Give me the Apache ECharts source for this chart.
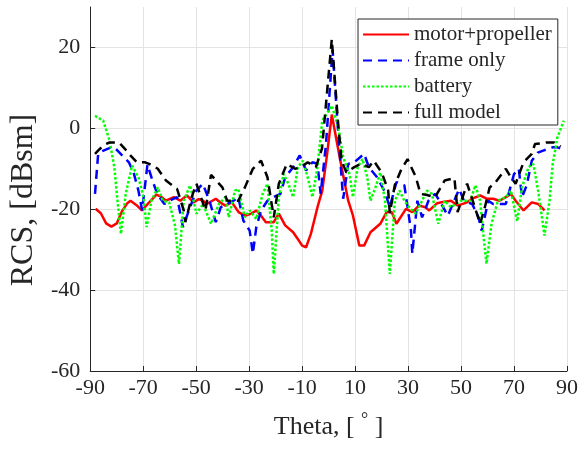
<!DOCTYPE html>
<html>
<head>
<meta charset="utf-8">
<script src="https://cdn.jsdelivr.net/npm/echarts@6/dist/echarts.min.js"></script>
<style>html,body{margin:0;padding:0;background:#fff}#c{width:581px;height:449px}</style>
</head>
<body>
<div id="c"></div>
<script>
const seriesNames = ['motor+propeller', 'frame only', 'battery', 'full model'];
const xTicks = [-90, -70, -50, -30, -10, 10, 30, 50, 70, 90];
const yTicks = [-60, -40, -20, 0, 20];

const motorPropeller = [[-88,-19.9],[-86,-21],[-84,-23.5],[-82,-24.3],[-80,-23.5],[-78,-20.5],[-76,-18.5],[-74.8,-17.9],[-72.5,-19],[-70.5,-20.3],[-68,-18.5],[-65,-16.4],[-63,-17],[-61.4,-17.9],[-58.4,-17],[-56,-17.9],[-53.5,-16.6],[-51,-18.3],[-49,-17.5],[-47.4,-17.9],[-46,-18.7],[-42.6,-17.4],[-40.5,-18.5],[-39,-19.1],[-36.5,-18.3],[-34,-20.7],[-31.6,-21.6],[-29.2,-21.1],[-27.3,-20.3],[-25.5,-21.6],[-23.7,-23.2],[-20.7,-23.2],[-18.8,-21.1],[-16.4,-24],[-13.4,-25.7],[-11.5,-27.5],[-10,-29],[-8.5,-29.4],[-6.7,-26.1],[-4.2,-19.5],[-2.4,-15.4],[-0.5,-6],[1.2,3.4],[3,-3],[4.9,-9.6],[7.4,-17.9],[9.2,-21.6],[11.6,-29],[13.4,-29],[15.8,-25.7],[19.5,-23.6],[21.9,-20.7],[23.8,-20.7],[25.6,-23.6],[29.2,-19.9],[31.6,-20.7],[34.1,-19.1],[36.5,-19.5],[38,-20.3],[41,-18.5],[42.6,-18.3],[46.2,-17.9],[48.7,-19.1],[52.3,-18.3],[54.2,-17.4],[57.2,-16.6],[59.6,-17.4],[62.1,-17.4],[64.5,-17.9],[66.9,-17],[68.8,-16.2],[70.6,-17.9],[73.6,-20.3],[76.7,-18.3],[79.1,-18.7],[81.5,-20.3]];

const frameOnly = [[-88.2,-16.2],[-87,-6.3],[-85,-5.5],[-82.1,-4.7],[-80.3,-5.1],[-77.2,-7.2],[-75.4,-8.4],[-73.6,-11],[-71.8,-15.4],[-70.4,-20.3],[-68.4,-9],[-66.3,-13.3],[-64.5,-16.5],[-62,-18.7],[-60.2,-17.9],[-57.2,-17],[-55,-24.4],[-52.3,-19.5],[-49.9,-15.4],[-47.5,-13.7],[-45,-17.9],[-42.6,-23.2],[-40.7,-19.5],[-38.3,-18.7],[-35.9,-17.9],[-34.1,-17],[-32.2,-22.8],[-29.8,-25.3],[-28.6,-31],[-27.3,-24.4],[-25.5,-20.3],[-23.1,-17.9],[-20.7,-17],[-18.2,-16.2],[-16.4,-12.1],[-13.4,-9.6],[-10.9,-6.7],[-8.5,-10.4],[-6.1,-8.4],[-4.2,-8.8],[-3,-16.2],[-1,-4],[1.5,19.5],[3.5,0],[5.5,-17.4],[7.4,-8.8],[9.7,-8.4],[13.4,-6.3],[15.2,-9.6],[18.3,-12.1],[21.3,-15.8],[23.1,-19.5],[25.6,-13.3],[28.6,-14.1],[31.1,-25.3],[31.6,-31],[33.5,-17.9],[35.3,-22],[37.7,-17.9],[40.2,-16.2],[42,-18],[45,-21.6],[49.3,-15],[51.1,-17.9],[54.2,-18.7],[56.6,-22],[57.8,-25.3],[60.3,-17.9],[62.1,-18.7],[66.9,-18.7],[70,-11.3],[71.8,-10],[73,-17],[74.8,-14.1],[76.7,-8],[79,-6],[81,-5.5],[84.6,-4.7],[86.4,-4.7],[89.5,-5.5]];

const battery = [[-88.2,3.1],[-85.1,1.9],[-82.7,-3],[-80.9,-9.6],[-79.7,-17.9],[-78.4,-26.1],[-76.6,-16.2],[-74.2,-9.2],[-71.8,-12.1],[-69.9,-17],[-68.7,-24.4],[-66.9,-17.9],[-64.5,-14.6],[-62.6,-17.9],[-60.2,-18.3],[-58,-24],[-56.5,-33.5],[-54.7,-17.9],[-52.3,-14.1],[-49.9,-21.1],[-47.4,-18.7],[-44.4,-23.6],[-41.4,-18.7],[-38.9,-17],[-37.7,-22],[-35.3,-15.4],[-34.1,-15],[-31.6,-22],[-29.8,-20.3],[-27.3,-22.4],[-24.9,-16.2],[-23.1,-13.7],[-21.5,-25],[-20.7,-36],[-18.8,-17],[-17,-11.3],[-15.2,-13.7],[-13.4,-17],[-11.6,-9.6],[-9.7,-8],[-7.9,-12.1],[-6.1,-17],[-4.2,-9.6],[-2.4,1.9],[1.2,5.6],[3.7,0.2],[5.5,-7.2],[7.9,-11.3],[9.2,-17],[11,-9.6],[12.8,-7.6],[14.6,-12.1],[15.8,-17.9],[17.7,-14.6],[19.5,-10.9],[21.3,-17.9],[22.3,-28],[23.1,-36],[25,-17.9],[26.8,-15.4],[28.6,-17.9],[30.4,-19.5],[32.9,-21.1],[35.3,-17.9],[37.1,-15.4],[39,-16.2],[41.4,-23.6],[43.8,-17.9],[46.2,-19.5],[49.9,-17.9],[53.5,-17.9],[55.4,-14.1],[57.2,-17.9],[58.4,-26.1],[59.6,-33.5],[61.5,-23.6],[63.9,-17.9],[66.9,-17],[68.8,-15.4],[71.2,-23],[73,-14.6],[75.5,-9.6],[77.3,-8.8],[79.1,-15.4],[80.9,-23.6],[81.5,-26.5],[83.4,-17.9],[84.6,-8.8],[86.4,-2.2],[88.8,1.9]];

const fullModel = [[-88.2,-6.3],[-86.4,-5.1],[-84.5,-4],[-82.7,-3.5],[-79.1,-3.5],[-77,-5],[-75.4,-6.3],[-72.4,-8.4],[-69.3,-8.4],[-67,-9],[-64.5,-10],[-61.4,-12.9],[-57.2,-15],[-54.7,-20.3],[-54.1,-23.2],[-51.7,-17],[-49.9,-13.7],[-46.5,-20.3],[-44.4,-11.5],[-40.1,-14.6],[-38.3,-17.9],[-34.1,-17.9],[-31.6,-14.6],[-28.6,-10],[-25.5,-8],[-23.1,-12.1],[-20.7,-22],[-18.8,-13.7],[-15.8,-8.8],[-12.7,-10],[-10.3,-9.6],[-7.9,-8.4],[-4.8,-9.6],[-2.5,-5],[1.2,22],[3.5,2],[4.9,-8],[6.7,-10.9],[9.7,-9.6],[12.2,-8.8],[15.2,-9.6],[17,-8],[20.1,-11],[22.5,-15.4],[23.1,-21],[25,-14],[27.4,-10.2],[29.8,-7.6],[32.9,-12],[34.7,-16.2],[37.1,-16.5],[40.2,-17],[43.8,-12.9],[47.5,-12.3],[48.7,-20.7],[52.3,-13.7],[54.8,-18.7],[57.2,-23.6],[59,-19.5],[60.8,-14.6],[62.6,-13.7],[66.9,-10],[68.8,-12.1],[70.6,-13.7],[73.6,-8.4],[76.7,-6.3],[77.9,-3.9],[82.2,-3.5],[85.2,-3.5],[87.6,-4.5]];

const seriesData = [motorPropeller, frameOnly, battery, fullModel];
const colors = ['#ff0000', '#0000ff', '#00ff00', '#000000'];
const dashes = ['solid', [9, 6], [2.5, 2], [9, 6]];

const FONT = 'Liberation Serif';
const chart = echarts.init(document.getElementById('c'), null, {renderer: 'canvas'});
chart.setOption({
  animation: false,
  backgroundColor: '#ffffff',
  grid: {left: 80, right: 8, top: 7, bottom: 78, containLabel: false},
  legend: {
    orient: 'vertical', left: 358, top: 19,
    data: seriesNames,
    itemWidth: 46, itemHeight: 14, itemGap: 5,
    padding: [5, 6, 2, 4],
    borderColor: '#262626', borderWidth: 1, borderRadius: 0,
    backgroundColor: '#ffffff',
    itemStyle: {opacity: 0, borderWidth: 0},
    textStyle: {fontFamily: FONT, fontSize: 21, lineHeight: 20, color: '#262626'}
  },
  xAxis: {
    type: 'value', min: xTicks[0], max: xTicks[xTicks.length - 1], interval: 20,
    name: 'Theta, [ {s|°} ]', nameLocation: 'middle', nameGap: 40,
    nameTextStyle: {fontFamily: FONT, fontSize: 26, color: '#262626',
      rich: {s: {fontFamily: FONT, fontSize: 18, padding: [0, 0, 14, 0], color: '#262626'}}},
    axisLine: {onZero: false, lineStyle: {color: '#262626', width: 1}},
    axisTick: {inside: true, length: 5, lineStyle: {color: '#262626'}},
    axisLabel: {fontFamily: FONT, fontSize: 22, color: '#262626', margin: 6},
    splitLine: {show: true, lineStyle: {color: '#e3e3e3', width: 1}}
  },
  yAxis: {
    type: 'value', min: yTicks[0], max: 30, interval: 20,
    name: 'RCS, [dBsm]', nameLocation: 'middle', nameGap: 46,
    nameTextStyle: {fontFamily: FONT, fontSize: 32, color: '#262626', padding: [0, 22, 0, 0]},
    axisLine: {show: true, onZero: false, lineStyle: {color: '#262626', width: 1}},
    axisTick: {show: true, inside: true, length: 5, lineStyle: {color: '#262626'}},
    axisLabel: {fontFamily: FONT, fontSize: 22, color: '#262626', margin: 10, showMaxLabel: false},
    splitLine: {show: true, lineStyle: {color: ['#e3e3e3', '#e3e3e3', '#e3e3e3', '#e3e3e3', '#e3e3e3', 'rgba(0,0,0,0)'], width: 1}}
  },
  series: seriesNames.map((n, i) => ({
    name: n, type: 'line', data: seriesData[i],
    showSymbol: false, symbol: 'none',
    lineStyle: {color: colors[i], width: 2.5, type: dashes[i]},
    itemStyle: {color: colors[i]}
  }))
});
</script>
</body>
</html>
